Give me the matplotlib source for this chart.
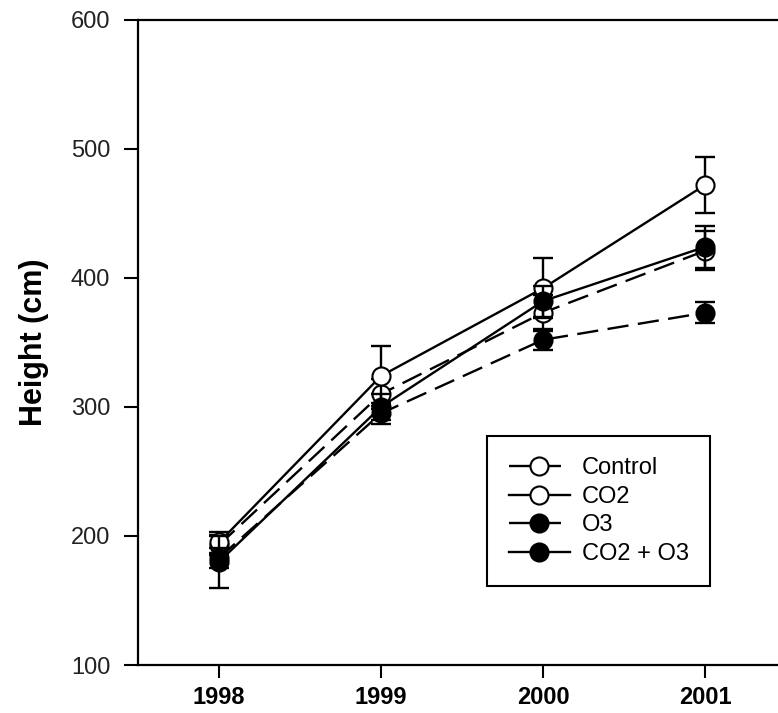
import matplotlib
matplotlib.use('Agg')
from matplotlib import pyplot as plt

# Données
years = [1998, 1999, 2000, 2001]
year_labels = ['1998', '1999', '2000', '2001']
control = [193, 310, 373, 421]
co2 = [195, 324, 392, 472]
o3 = [183, 295, 352, 373]
co2_o3 = [180, 300, 382, 424]
control_err = [8, 12, 14, 15]
co2_err = [8, 23, 23, 22]
o3_err = [8, 8, 8, 8]
co2_o3_err = [20, 10, 12, 16]
y_ticks = [100, 200, 300, 400, 500, 600]

plt.rcParams['font.family'] = ['Liberation Sans', 'DejaVu Sans']

fig = plt.figure(figsize=(7.78, 7.13), dpi=100)
ax = fig.add_axes([0.1774, 0.0673, 0.833, 0.905])

dash = (0, (9, 4))
series = [
    ('Control', control, control_err, 'white', dash),
    ('CO2', co2, co2_err, 'white', '-'),
    ('O3', o3, o3_err, 'black', dash),
    ('CO2 + O3', co2_o3, co2_o3_err, 'black', '-'),
]

for i, (name, vals, err, face, ls) in enumerate(series):
    ax.errorbar(years, vals, yerr=err, fmt='none', ecolor='black',
                elinewidth=1.7, capsize=7, capthick=1.7, zorder=2 + i)
    ax.plot(years, vals, color='black', linestyle=ls, linewidth=1.7,
            marker='o', markersize=13, markerfacecolor=face,
            markeredgecolor='black', markeredgewidth=1.5,
            label=name, zorder=2 + i)

ax.set_xlim(1997.5, 2001.5)
ax.set_ylim(100, 600)
ax.set_xticks(years)
ax.set_xticklabels(year_labels, fontsize=17, fontweight='bold')
ax.set_yticks(y_ticks)
ax.set_yticklabels([str(v) for v in y_ticks], fontsize=17, color='#222222')
ax.tick_params(axis='y', length=10, width=1.5, pad=10)
ax.tick_params(axis='x', length=9, width=1.5, pad=6)
for s in ax.spines.values():
    s.set_linewidth(1.6)
ax.spines['right'].set_visible(False)

ax.set_ylabel('Height (cm)', fontsize=22, fontweight='bold', labelpad=16)

leg = ax.legend(loc='upper left', bbox_to_anchor=(0.539, 0.355), fontsize=17,
                frameon=True, fancybox=False, edgecolor='black',
                handlelength=2.6, handletextpad=0.5, labelspacing=0.28,
                borderpad=0.9, borderaxespad=0, framealpha=1)
leg.get_frame().set_linewidth(1.5)
leg.set_zorder(10)

fig.savefig('out.png', dpi=100)
